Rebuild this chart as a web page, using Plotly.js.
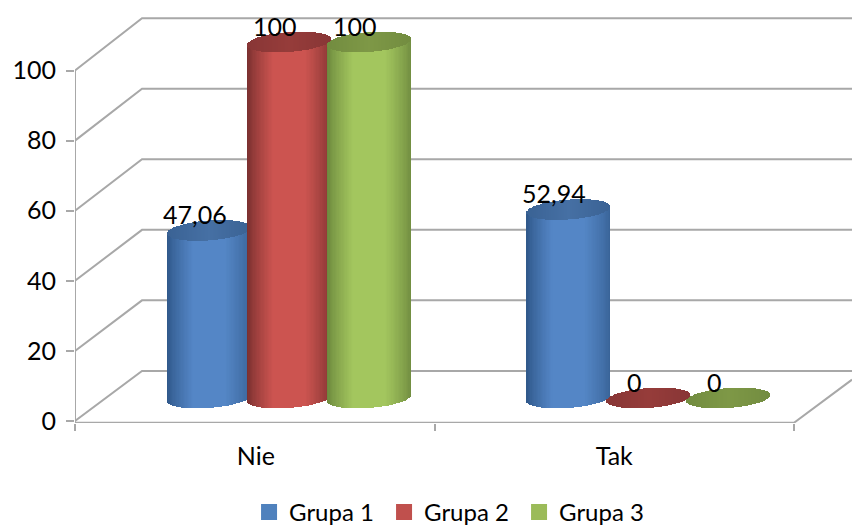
<!DOCTYPE html>
<html>
<head>
<meta charset="utf-8">
<script src="https://cdn.plot.ly/plotly-3.0.1.min.js"></script>
<style>html,body{margin:0;padding:0;background:#fff}#chart{width:852px;height:528px}</style>
</head>
<body>
<div id="chart"></div>
<script>
// Survey answers per group, in percent
const categories = ['Nie', 'Tak'];
const groupNames = ['Grupa 1', 'Grupa 2', 'Grupa 3'];
const grupa1 = [47.06, 52.94];
const grupa2 = [100, 0];
const grupa3 = [100, 0];
const valueLabels = [['47,06', '52,94'], ['100', '0'], ['100', '0']];
const yTicks = [0, 20, 40, 60, 80, 100];

const FONT = 'Lato, "Noto Sans", sans-serif';
const WALL = '#a8a8a8';

// Cylinder shading: left edge, middle, right edge, lid edge, lid middle
const palette = [
  {left: [46, 86, 136], mid: [84, 134, 198], right: [56, 98, 150], lidE: [58, 98, 148], lidM: [70, 112, 164], legend: '#4f81bd'},
  {left: [118, 46, 46], mid: [204, 84, 80], right: [130, 52, 50], lidE: [136, 54, 54], lidM: [150, 60, 58], legend: '#c0504d'},
  {left: [106, 134, 60], mid: [163, 198, 94], right: [112, 140, 64], lidE: [114, 140, 64], lidM: [126, 152, 70], legend: '#9bbb59'}
];

// Horizontal layout of the cylinders on the category axis
const groupCentre = 0.595, seriesPitch = 0.2225, halfWidth = 0.1168;
const STRIPS = 64;
// Ellipse depth and tilt, in units of the cylinder axis
const lidDepth = 2.8, lidTilt = 0.85;
// Offset of the back wall relative to the front axes
const wallDx = 0.1864, wallRise = 14.3, wallScale = 1.006;
const xMax = 2.1613;

function mix(a, b, k) {
  return 'rgb(' + a.map((v, i) => Math.round(v + (b[i] - v) * k)).join(',') + ')';
}
function bodyColour(p, t) {
  const edge = t < 0 ? p.left : p.right;
  const k = Math.pow(Math.min(1, (1 - Math.abs(t)) / 0.62), 0.8);
  return mix(edge, p.mid, k);
}
function lidColour(p, t) {
  return mix(p.lidE, p.lidM, 1 - Math.abs(t));
}

function cylinderTraces(values, s) {
  const p = palette[s];
  const body = {x: [], y: [], base: [], color: []};
  const lid = {x: [], y: [], base: [], color: []};
  values.forEach((v, c) => {
    const cx = c + groupCentre + (s - 1) * seriesPitch;
    for (let i = 0; i < STRIPS; i++) {
      const t = -1 + (2 * i + 1) / STRIPS;
      const arc = lidDepth * Math.sqrt(1 - t * t);
      const lean = lidTilt * t;
      const sx = cx + t * halfWidth;
      const bottom = lean - arc;
      body.x.push(sx);
      body.base.push(bottom);
      body.y.push(v + lean - bottom);
      body.color.push(bodyColour(p, t));
      lid.x.push(sx);
      lid.base.push(v + lean - arc);
      lid.y.push(2 * arc);
      lid.color.push(lidColour(p, t));
    }
  });
  const stripWidth = 2 * halfWidth / STRIPS;
  return [body, lid].map(part => ({
    type: 'bar', x: part.x, y: part.y, base: part.base, width: stripWidth,
    xaxis: 'x', yaxis: 'y2', showlegend: false, hoverinfo: 'skip',
    marker: {color: part.color, line: {width: 0}}
  }));
}

// Walls: front axis, gridlines running back and along the rear wall, floor edge
const wallX = [], wallY = [];
function addPolyline(xs, ys) {
  wallX.push(...xs, null);
  wallY.push(...ys, null);
}
yTicks.forEach(v => {
  const back = v * wallScale + wallRise;
  addPolyline([0, wallDx, xMax], [v, back, back]);
});
addPolyline([0, 0], [-0.6, 100]);
addPolyline([0, 2, xMax], [-0.5, -0.5, 11.8]);

const traces = [{
  type: 'scatter', mode: 'lines', x: wallX, y: wallY, xaxis: 'x', yaxis: 'y',
  line: {color: WALL, width: 2}, hoverinfo: 'skip', showlegend: false,
  cliponaxis: false, connectgaps: false
}];

const seriesValues = [grupa1, grupa2, grupa3];
seriesValues.forEach((vals, s) => traces.push(...cylinderTraces(vals, s)));

// Legend entries
groupNames.forEach((name, s) => traces.push({
  type: 'scatter', mode: 'markers', name: name, x: [null], y: [null],
  xaxis: 'x', yaxis: 'y', hoverinfo: 'skip',
  marker: {symbol: 'square', size: 16, color: palette[s].legend}
}));

const annotations = [];
seriesValues.forEach((vals, s) => vals.forEach((v, c) => annotations.push({
  xref: 'x', yref: 'y2', x: c + groupCentre + (s - 1) * seriesPitch, y: v,
  text: valueLabels[s][c], showarrow: false, xanchor: 'center', yanchor: 'middle',
  xshift: -14, yshift: 16.5, font: {family: FONT, size: 25, color: '#000'}
})));

const layout = {
  width: 852, height: 528,
  margin: {l: 75, r: 0, t: 10, b: 105, autoexpand: false},
  paper_bgcolor: '#fff', plot_bgcolor: '#fff',
  barmode: 'overlay', bargap: 0,
  showlegend: true,
  legend: {
    orientation: 'h', x: 0.224, xanchor: 'left', y: -0.162, yanchor: 'top',
    font: {family: FONT, size: 24, color: '#000'},
    itemsizing: 'trace', entrywidth: 90, entrywidthmode: 'pixels',
    traceorder: 'normal', bgcolor: 'rgba(0,0,0,0)'
  },
  xaxis: {
    range: [0, xMax], tickmode: 'array', tickvals: [0.503, 1.5], ticktext: categories,
    ticks: '', showgrid: false, zeroline: false, showline: false,
    ticklabelstandoff: 16, tickangle: 0,
    tickfont: {family: FONT, size: 25, color: '#000'},
    minor: {tickmode: 'array', tickvals: [0, 1, 2], ticks: 'outside', ticklen: 7, tickwidth: 2, tickcolor: WALL, showgrid: false},
    fixedrange: true
  },
  yaxis: {
    range: [-0.57, 117.26], tickmode: 'array', tickvals: yTicks,
    ticks: 'outside', ticklen: 8, tickwidth: 2, tickcolor: WALL,
    ticklabelstandoff: 5,
    showgrid: false, zeroline: false, showline: false,
    tickfont: {family: FONT, size: 25, color: '#000'},
    fixedrange: true
  },
  yaxis2: {
    overlaying: 'y', anchor: 'x', side: 'left', visible: false,
    range: [-7.02, 108.99], showgrid: false, zeroline: false, fixedrange: true
  },
  annotations: annotations
};

Plotly.newPlot('chart', traces, layout, {displayModeBar: false, staticPlot: true});
</script>
</body>
</html>
